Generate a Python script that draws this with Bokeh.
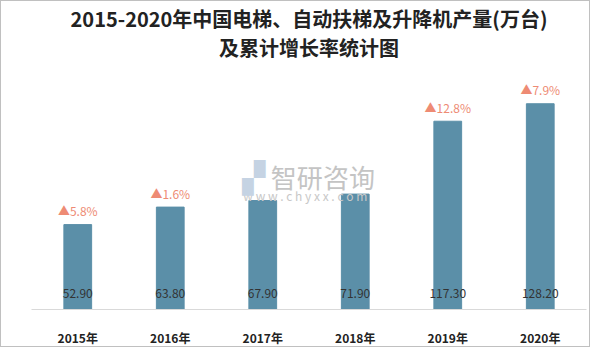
from bokeh.plotting import figure
from bokeh.models import ColumnDataSource, Label
from bokeh.core.properties import value
from bokeh.embed import file_html
from bokeh.resources import INLINE

years = ["2015年", "2016年", "2017年", "2018年", "2019年", "2020年"]
output = [52.90, 63.80, 67.90, 71.90, 117.30, 128.20]
growth = ["▲5.8%", "▲1.6%", "", "", "▲12.8%", "▲7.9%"]
title_lines = ["2015-2020年中国电梯、自动扶梯及升降机产量(万台)", "及累计增长率统计图"]

src = ColumnDataSource(dict(
    x=years,
    y=output,
    lbl=[f"{v:.2f}" for v in output],
    g=growth,
    zero=[0] * len(years),
))

# the frame spans the full height so the titles can sit inside it
p = figure(x_range=years, y_range=(0, 191.9), width=590, height=347,
           output_backend="svg", toolbar_location=None,
           min_border_left=30, min_border_right=5, min_border_top=0, min_border_bottom=29)
p.outline_line_color = None
p.styles = {"border": "1px solid #c0c0c0"}
p.xgrid.visible = False
p.ygrid.visible = False
p.yaxis.visible = False
p.background_fill_color = "white"
p.border_fill_color = "white"

p.vbar(x="x", top="y", width=0.30, source=src, fill_color="#5B8FA8", line_color="#5B8FA8")

xa = p.xaxis[0]
xa.axis_line_color = "#d9d9d9"
xa.axis_line_width = 1
xa.major_tick_line_color = None
xa.minor_tick_line_color = None
xa.major_label_standoff = 13
xa.major_label_text_font = "Noto Sans CJK SC"
xa.major_label_text_font_size = "12px"
xa.major_label_text_font_style = "bold"
xa.major_label_text_color = "#222222"

p.text(x="x", y="zero", text="lbl", source=src, y_offset=-16,
       text_align="center", text_baseline="middle",
       text_font=value("Noto Sans CJK SC"), text_font_size="12px", text_color="#333333")

p.text(x="x", y="y", text="g", source=src, y_offset=-14,
       text_align="center", text_baseline="middle",
       text_font=value("Noto Sans CJK SC"), text_font_size="12px", text_color="#EE8B74")

# watermark
p.add_layout(Label(x=3.15, y=83, text="智研咨询", text_align="center", text_baseline="middle",
                   text_font="Noto Sans CJK SC", text_font_size="26px", text_color="#c4c4c4"))
p.add_layout(Label(x=2.96, y=71, text="w w w . c h y x x . c o m", text_align="center",
                   text_baseline="middle", text_font="Noto Sans CJK SC", text_font_size="12px",
                   text_color="#c8c8c8"))
p.add_layout(Label(x=2.40, y=82, text="▞", text_align="center", text_baseline="middle",
                   text_font="DejaVu Sans", text_font_size="30px", text_color="#c5d3e3"))

# title
p.add_layout(Label(x=3.0, y=181, text=title_lines[0], text_align="center", text_baseline="middle",
                   text_font="Noto Sans CJK SC", text_font_size="20px", text_font_style="bold",
                   text_color="#222222"))
p.add_layout(Label(x=3.0, y=163.5, text=title_lines[1], text_align="center", text_baseline="middle",
                   text_font="Noto Sans CJK SC", text_font_size="20px", text_font_style="bold",
                   text_color="#222222"))

open("out.html", "w").write(file_html(p, INLINE))
